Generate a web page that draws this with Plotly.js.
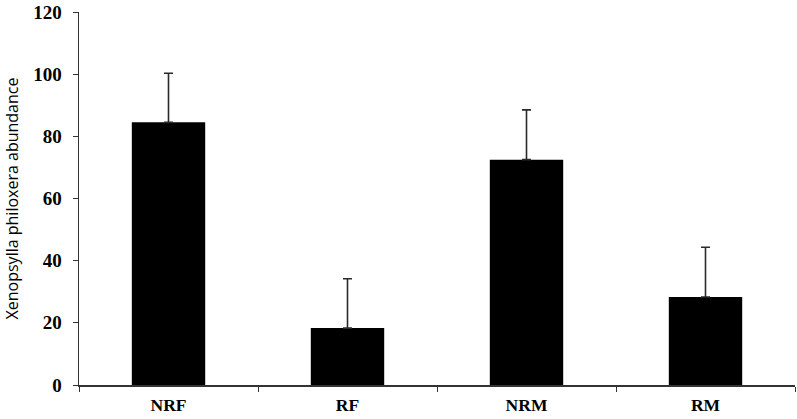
<!DOCTYPE html>
<html>
<head>
<meta charset="utf-8">
<script src="https://cdn.plot.ly/plotly-3.0.1.min.js"></script>
<style>html,body{margin:0;padding:0;background:#fff;}#chart{width:797px;height:419px;}</style>
</head>
<body>
<div id="chart"></div>
<script>
const categories = ["NRF", "RF", "NRM", "RM"];
const abundance = [84.5, 18.3, 72.5, 28.3];
const errorUp = [15.8, 15.9, 16.0, 16.0];
const yTicks = [0, 20, 40, 60, 80, 100, 120];

const trace = {
  type: "bar",
  x: categories,
  y: abundance,
  width: 0.41,
  marker: {color: "#000000", line: {width: 0}},
  error_y: {type: "data", array: errorUp, symmetric: false, arrayminus: [0,0,0,0],
            color: "#2a2a2a", thickness: 1.6, width: 4.5},
  hoverinfo: "skip"
};

const layout = {
  width: 797, height: 419,
  margin: {l: 79, r: 2, t: 12, b: 34},
  paper_bgcolor: "#ffffff", plot_bgcolor: "#ffffff",
  showlegend: false,
  xaxis: {
    type: "category", range: [-0.5, 3.5],
    showline: true, linecolor: "#333333", linewidth: 1.5,
    ticks: "outside", tickson: "boundaries", ticklen: 5, tickcolor: "#333333", tickwidth: 1,
    ticklabelstandoff: 3,
    showgrid: false, zeroline: false,
    tickfont: {family: "Liberation Serif", size: 17.5, color: "#000000", weight: "bold"},
    fixedrange: true
  },
  yaxis: {
    range: [0, 120], tickvals: yTicks, ticktext: yTicks.map(String),
    showline: true, linecolor: "#333333", linewidth: 1.5,
    ticks: "outside", ticklen: 5, tickcolor: "#333333", tickwidth: 1,
    ticklabelstandoff: 7,
    showgrid: false, zeroline: false,
    tickfont: {family: "Liberation Serif", size: 19, color: "#000000", weight: "bold"},
    title: {text: "Xenopsylla philoxera abundance", font: {family: "Open Sans", size: 16, color: "#000000"}, standoff: 10},
    fixedrange: true
  }
};

Plotly.newPlot("chart", [trace], layout, {displayModeBar: false, staticPlot: true});
</script>
</body>
</html>
